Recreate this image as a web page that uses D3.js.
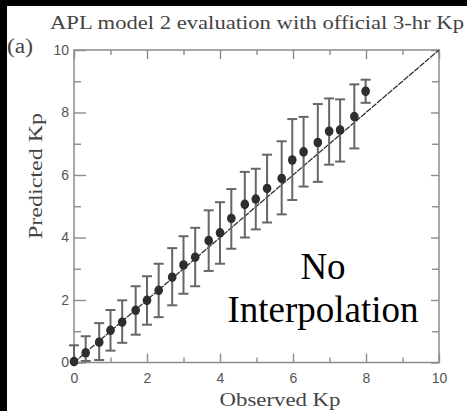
<!DOCTYPE html>
<html>
<head>
<meta charset="utf-8">
<script src="https://cdn.jsdelivr.net/npm/d3@7"></script>
<style>
  html, body { margin: 0; padding: 0; background: #000; }
  svg { display: block; }
</style>
</head>
<body>
<svg id="chart" width="467" height="411"></svg>
<script>
// Observed Kp bins (thirds) and the model's mean prediction with its spread
const observedKp = [0, 0.32, 0.69, 1, 1.32, 1.69, 2, 2.32, 2.69, 3, 3.32, 3.69, 4,
                    4.31, 4.68, 4.98, 5.29, 5.69, 5.98, 6.29, 6.68, 6.99, 7.29, 7.68, 7.99];
const predictedKp = [0.03, 0.31, 0.65, 1.03, 1.29, 1.67, 1.99, 2.31, 2.73, 3.12, 3.37, 3.9, 4.15,
                     4.61, 5.06, 5.23, 5.57, 5.89, 6.48, 6.74, 7.04, 7.4, 7.44, 7.87, 8.68];
const predictedLow = [0, 0.05, 0.08, 0.38, 0.63, 0.89, 1.21, 1.45, 1.83, 2.2, 2.44, 2.93, 3.16,
                      3.64, 4.0, 4.26, 4.48, 4.74, 5.2, 5.63, 5.78, 6.33, 6.43, 6.85, 8.31];
const predictedHigh = [0.55, 0.84, 1.26, 1.68, 1.99, 2.44, 2.76, 3.16, 3.66, 4.04, 4.31, 4.87, 5.13,
                       5.55, 6.1, 6.2, 6.65, 7.08, 7.79, 7.86, 8.27, 8.45, 8.42, 8.9, 9.05];
const xTicks = [0, 2, 4, 6, 8, 10];
const yTicks = [0, 2, 4, 6, 8, 10];
const minorTicks = [1, 3, 5, 7, 9];

const titleText = "APL model 2 evaluation with official 3-hr Kp";
const panelLabel = "(a)";
const xLabel = "Observed Kp";
const yLabel = "Predicted Kp";
const noteLines = ["No", "Interpolation"];

const svg = d3.select("#chart");
const W = 467, H = 411;
const plot = { left: 74, right: 439, top: 50, bottom: 362.5 };

// paper area (thin black band remains on top and left)
svg.append("rect").attr("x", 7).attr("y", 6).attr("width", W - 7).attr("height", H - 6).attr("fill", "#fff");

const x = d3.scaleLinear().domain([0, 10]).range([plot.left, plot.right]);
const y = d3.scaleLinear().domain([0, 10]).range([plot.bottom, plot.top]);

const frameColor = "#8c8c8c";
const serif = "'Liberation Serif', 'Times New Roman', serif";
const sans = "'Liberation Sans', Arial, sans-serif";

// Axes: ticks point inward on all four sides
function styleAxis(g) {
  g.select(".domain").remove();
  g.selectAll(".tick line").attr("stroke", frameColor).attr("stroke-width", 1.4);
  g.selectAll(".tick text").attr("fill", "#555").attr("font-family", sans).attr("font-size", 14);
}

svg.append("g").attr("transform", `translate(0,${plot.bottom})`)
  .call(d3.axisBottom(x).tickValues(xTicks).tickSize(-9).tickPadding(11).tickFormat(d3.format("d")))
  .call(styleAxis);
svg.append("g").attr("transform", `translate(0,${plot.bottom})`)
  .call(d3.axisBottom(x).tickValues(minorTicks).tickSize(-5).tickFormat(""))
  .call(styleAxis);
svg.append("g").attr("transform", `translate(0,${plot.top})`)
  .call(d3.axisTop(x).tickValues(xTicks).tickSize(-9).tickFormat(""))
  .call(styleAxis);
svg.append("g").attr("transform", `translate(0,${plot.top})`)
  .call(d3.axisTop(x).tickValues(minorTicks).tickSize(-5).tickFormat(""))
  .call(styleAxis);
svg.append("g").attr("transform", `translate(${plot.left},0)`)
  .call(d3.axisLeft(y).tickValues(yTicks).tickSize(-12).tickPadding(5).tickFormat(d3.format("d")))
  .call(styleAxis);
svg.append("g").attr("transform", `translate(${plot.left},0)`)
  .call(d3.axisLeft(y).tickValues(minorTicks).tickSize(-7).tickFormat(""))
  .call(styleAxis);
svg.append("g").attr("transform", `translate(${plot.right},0)`)
  .call(d3.axisRight(y).tickValues(yTicks).tickSize(-8).tickFormat(""))
  .call(styleAxis);
svg.append("g").attr("transform", `translate(${plot.right},0)`)
  .call(d3.axisRight(y).tickValues(minorTicks).tickSize(-7).tickFormat(""))
  .call(styleAxis);

// frame
svg.append("rect")
  .attr("x", plot.left).attr("y", plot.top)
  .attr("width", plot.right - plot.left).attr("height", plot.bottom - plot.top)
  .attr("fill", "none").attr("stroke", frameColor).attr("stroke-width", 1.5);

// one-to-one reference line
svg.append("line")
  .attr("x1", x(0)).attr("y1", y(0)).attr("x2", x(10)).attr("y2", y(10))
  .attr("stroke", "#333").attr("stroke-width", 1.3).attr("stroke-dasharray", "6,1");

// error bars
const rows = observedKp.map((o, i) => ({ o, p: predictedKp[i], lo: predictedLow[i], hi: predictedHigh[i] }));
const capHalf = 5;
const bars = svg.append("g").attr("stroke", "#666").attr("stroke-width", 2).attr("fill", "none");
bars.selectAll("line.stem").data(rows).join("line").attr("class", "stem")
  .attr("x1", d => x(d.o)).attr("x2", d => x(d.o)).attr("y1", d => y(d.lo)).attr("y2", d => y(d.hi));
bars.selectAll("line.capTop").data(rows).join("line").attr("class", "capTop")
  .attr("x1", d => x(d.o) - capHalf).attr("x2", d => x(d.o) + capHalf).attr("y1", d => y(d.hi)).attr("y2", d => y(d.hi));
bars.selectAll("line.capBot").data(rows.filter(d => d.lo > 0.02)).join("line").attr("class", "capBot")
  .attr("x1", d => x(d.o) - capHalf).attr("x2", d => x(d.o) + capHalf).attr("y1", d => y(d.lo)).attr("y2", d => y(d.lo));

// mean predictions
svg.append("g").selectAll("ellipse").data(rows).join("ellipse")
  .attr("cx", d => x(d.o)).attr("cy", d => y(d.p)).attr("rx", 4.3).attr("ry", 4.8)
  .attr("fill", "#2e2e2e");

// titles and labels
svg.append("text").attr("x", 257).attr("y", 29).attr("text-anchor", "middle")
  .attr("font-family", serif).attr("font-size", 19).attr("fill", "#444")
  .attr("textLength", 414).attr("lengthAdjust", "spacingAndGlyphs").text(titleText);
svg.append("text").attr("x", 7).attr("y", 53)
  .attr("font-family", serif).attr("font-size", 20).attr("fill", "#444")
  .attr("textLength", 26).attr("lengthAdjust", "spacingAndGlyphs").text(panelLabel);
svg.append("text").attr("x", 280).attr("y", 406).attr("text-anchor", "middle")
  .attr("font-family", serif).attr("font-size", 19).attr("fill", "#444")
  .attr("textLength", 121).attr("lengthAdjust", "spacingAndGlyphs").text(xLabel);
svg.append("text").attr("transform", "translate(42,176) rotate(-90)").attr("text-anchor", "middle")
  .attr("font-family", serif).attr("font-size", 18).attr("fill", "#444")
  .attr("textLength", 126).attr("lengthAdjust", "spacingAndGlyphs").text(yLabel);

svg.append("g").selectAll("text").data(noteLines).join("text")
  .attr("x", 323).attr("y", (d, i) => 279 + i * 43).attr("text-anchor", "middle")
  .attr("font-family", serif).attr("font-size", 37).attr("fill", "#000").text(d => d);
</script>
</body>
</html>
